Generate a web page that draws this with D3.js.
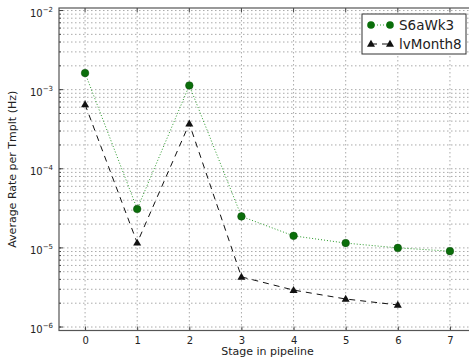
<!DOCTYPE html>
<html><head><meta charset="utf-8">
<script src="https://cdn.jsdelivr.net/npm/d3@7"></script>
<style>body{margin:0;background:#fff}svg{display:block}text{font-family:"DejaVu Sans",sans-serif;fill:#222}</style>
</head><body>
<script>
const stages = [0,1,2,3,4,5,6,7];
const seriesNames = ["S6aWk3","lvMonth8"];
const s6aWk3 = [1.62e-3, 3.1e-5, 1.13e-3, 2.5e-5, 1.42e-5, 1.15e-5, 1.0e-5, 9.1e-6];
const lvMonth8 = [6.5e-4, 1.16e-5, 3.72e-4, 4.3e-6, 2.93e-6, 2.26e-6, 1.9e-6];
const xTicks = [0,1,2,3,4,5,6,7];
const yMajor = [-6,-5,-4,-3,-2];

const W=469,H=364;
const L=59,R=476,T=8,B=330.5;
const svg=d3.select("body").append("svg").attr("width",W).attr("height",H);
const x=d3.scaleLinear().domain([-0.5,7.5]).range([L,R]);
const y=d3.scaleLog().domain([Math.pow(10,-6.044),Math.pow(10,-1.968)]).range([B,T]);

const g=svg.append("g");
// grid
const minor=[];
for(let e=-7;e<=-2;e++){for(let m=1;m<=9;m++){const v=m*Math.pow(10,e);if(v>=y.domain()[0]&&v<=y.domain()[1])minor.push(v);}}
g.selectAll(".hg").data(minor).enter().append("line")
 .attr("x1",L).attr("x2",R).attr("y1",d=>y(d)).attr("y2",d=>y(d))
 .attr("stroke","#aaa").attr("stroke-width",1).attr("stroke-dasharray","1.5,2.5");
g.selectAll(".vg").data(xTicks).enter().append("line")
 .attr("x1",d=>x(d)).attr("x2",d=>x(d)).attr("y1",T).attr("y2",B)
 .attr("stroke","#aaa").attr("stroke-width",1).attr("stroke-dasharray","1.5,2.5");

// x ticks (bottom and top, inward)
const xa=d3.axisBottom(x).tickValues(xTicks).tickSize(-4).tickPadding(6).tickFormat(d3.format("d"));
const xg=svg.append("g").attr("transform",`translate(0,${B})`).call(xa);
xg.select(".domain").remove();
xg.selectAll("line").attr("stroke","#444");
xg.selectAll("text").attr("font-size",10).attr("fill","#222").style("font-family","DejaVu Sans");
svg.selectAll(".tt").data(xTicks).enter().append("line")
 .attr("x1",d=>x(d)).attr("x2",d=>x(d)).attr("y1",T).attr("y2",T+4).attr("stroke","#444");

// y ticks
const yg=svg.append("g").attr("transform",`translate(${L},0)`);
yg.selectAll(".tk").data(yMajor).enter().append("line")
 .attr("x1",0).attr("x2",4).attr("y1",d=>y(Math.pow(10,d))).attr("y2",d=>y(Math.pow(10,d))).attr("stroke","#444");
yg.selectAll(".mk").data(minor).enter().append("line")
 .attr("x1",0).attr("x2",2).attr("y1",d=>y(d)).attr("y2",d=>y(d)).attr("stroke","#444");
const yl=yg.selectAll(".yl").data(yMajor).enter().append("text")
 .attr("x",-6).attr("y",d=>y(Math.pow(10,d))+6).attr("text-anchor","end").attr("font-size",10);
yl.append("tspan").text("10");
yl.append("tspan").attr("dy",-5).attr("font-size",7).text(d=>"\u2212"+(-d));

// frame
svg.append("rect").attr("x",L).attr("y",T).attr("width",R-L).attr("height",B-T)
 .attr("fill","none").attr("stroke","#555").attr("stroke-width",1.2);

// lines
const line=d3.line().x((d,i)=>x(stages[i])).y(d=>y(d));
svg.append("path").datum(s6aWk3).attr("d",line).attr("fill","none")
 .attr("stroke","#2a9a2a").attr("stroke-width",1).attr("stroke-dasharray","1,2");
svg.append("path").datum(lvMonth8).attr("d",line).attr("fill","none")
 .attr("stroke","#111").attr("stroke-width",1).attr("stroke-dasharray","6,5");
svg.selectAll(".c").data(s6aWk3).enter().append("circle")
 .attr("cx",(d,i)=>x(stages[i])).attr("cy",d=>y(d)).attr("r",3.8)
 .attr("fill","#0a6e0a").attr("stroke","#0a4a0a").attr("stroke-width",0.5);
const tri=d3.symbol().type(d3.symbolTriangle).size(28);
svg.selectAll(".t").data(lvMonth8).enter().append("path")
 .attr("d",tri).attr("transform",(d,i)=>`translate(${x(stages[i])},${y(d)+0.5})`).attr("fill","#111");

// legend
const lg=svg.append("g");
lg.append("rect").attr("x",362).attr("y",14).attr("width",104).attr("height",40)
 .attr("fill","#fff").attr("stroke","#333").attr("stroke-width",1);
lg.append("line").attr("x1",371).attr("x2",390).attr("y1",25).attr("y2",25)
 .attr("stroke","#2a9a2a").attr("stroke-dasharray","1,2");
[371,390].forEach(px=>lg.append("circle").attr("cx",px).attr("cy",25).attr("r",3.8).attr("fill","#0a6e0a"));
lg.append("line").attr("x1",371).attr("x2",390).attr("y1",44).attr("y2",44)
 .attr("stroke","#111").attr("stroke-dasharray","6,5");
[371,390].forEach(px=>lg.append("path").attr("d",tri).attr("transform",`translate(${px},44.5)`).attr("fill","#111"));
lg.append("text").attr("x",399).attr("y",30).attr("font-size",13.5).text(seriesNames[0]);
lg.append("text").attr("x",399).attr("y",49).attr("font-size",13.5).text(seriesNames[1]);

// labels
svg.append("text").attr("x",(L+R)/2).attr("y",355).attr("text-anchor","middle").attr("font-size",11).text("Stage in pipeline");
svg.append("text").attr("transform",`translate(16,${(T+B)/2}) rotate(-90)`).attr("text-anchor","middle").attr("font-size",11).text("Average Rate per Tmplt (Hz)");
</script>
</body></html>
